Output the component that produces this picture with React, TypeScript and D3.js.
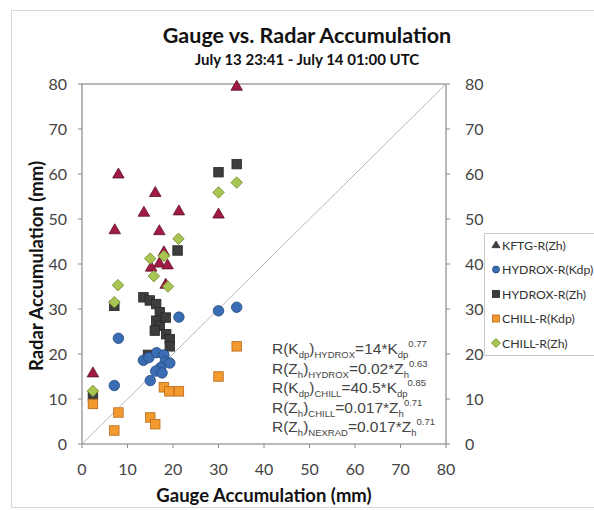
import React from "react";
import * as d3 from "d3";

type Pt = [number, number];

const kftg: Pt[] = [[34, 79.5], [8, 60], [16.1, 55.9], [13.6, 51.5], [21.3, 51.8], [30, 51.1], [7.2, 47.6], [17, 47.4], [18, 42.7], [15.2, 39.3], [17, 40.2], [18.8, 39.8], [18.4, 35.5], [2.4, 15.8]];
const hydroxKdp: Pt[] = [[21.3, 28.2], [30, 29.6], [34, 30.4], [8, 23.5], [7.1, 13], [13.5, 18.6], [14.7, 19.2], [16.4, 20.3], [18, 19.8], [18.3, 18.3], [19.3, 18], [17.3, 17], [16.2, 16.2], [15, 14.1], [17.6, 15.8]];
const hydroxZh: Pt[] = [[30, 60.4], [34, 62.2], [21, 43], [7.1, 30.7], [13.5, 32.6], [14.9, 31.9], [16.3, 31.1], [17.1, 29.3], [16.3, 27.4], [17.1, 26.3], [16, 25.2], [18.4, 28.1], [18.5, 24.4], [19.3, 23.3], [19.3, 21.7], [14.5, 19.8], [2.4, 10.7]];
const chillKdp: Pt[] = [[34, 21.7], [30, 15], [18, 12.6], [19.2, 11.7], [21.3, 11.7], [8, 7], [15, 5.9], [16.1, 4.4], [7.1, 3], [2.4, 8.9]];
const chillZh: Pt[] = [[34, 58.1], [30, 55.9], [21.2, 45.6], [15, 41.2], [18, 41.8], [7.9, 35.3], [7.1, 31.5], [15.8, 37.3], [18.9, 35], [2.4, 11.8]];

const ticks = [0, 10, 20, 30, 40, 50, 60, 70, 80];
const legendLabels = ["KFTG-R(Zh)", "HYDROX-R(Kdp)", "HYDROX-R(Zh)", "CHILL-R(Kdp)", "CHILL-R(Zh)"];

const x = d3.scaleLinear().domain([0, 80]).range([82, 446]);
const y = d3.scaleLinear().domain([0, 80]).range([444, 84]);

const FONT = "Lato, 'Open Sans', sans-serif";
const EQFONT = "'Liberation Sans', Arial, sans-serif";

type Shape = "tri" | "circ" | "sq" | "dia";
function Marker({ shape, cx, cy, s, fill, stroke }: { shape: Shape; cx: number; cy: number; s: number; fill: string; stroke: string }) {
  if (shape === "circ") return <circle cx={cx} cy={cy} r={s / 2} fill={fill} stroke={stroke} strokeWidth={0.8} />;
  if (shape === "sq") return <rect x={cx - s / 2} y={cy - s / 2} width={s} height={s} fill={fill} stroke={stroke} strokeWidth={0.8} />;
  if (shape === "dia") {
    const h = s / 2 + 1;
    return <path d={`M${cx},${cy - h}L${cx + h},${cy}L${cx},${cy + h}L${cx - h},${cy}Z`} fill={fill} stroke={stroke} strokeWidth={0.8} />;
  }
  const h = s * 0.95;
  return <path d={`M${cx},${cy - h * 0.6}L${cx + s / 2 + 0.5},${cy + h * 0.4}L${cx - s / 2 - 0.5},${cy + h * 0.4}Z`} fill={fill} stroke={stroke} strokeWidth={0.8} />;
}

const series: { data: Pt[]; shape: Shape; fill: string; stroke: string; size: number }[] = [
  { data: hydroxZh, shape: "sq", fill: "#3d3d3d", stroke: "#262626", size: 9.5 },
  { data: kftg, shape: "tri", fill: "#a31a45", stroke: "#5c1024", size: 10.5 },
  { data: hydroxKdp, shape: "circ", fill: "#3b6db4", stroke: "#22477c", size: 10.5 },
  { data: chillKdp, shape: "sq", fill: "#f39a2e", stroke: "#b8681a", size: 9.5 },
  { data: chillZh, shape: "dia", fill: "#a8c451", stroke: "#6f8a2c", size: 9.5 },
];

const legendStyles = [
  { shape: "tri" as Shape, fill: "#404040", stroke: "#303030" },
  { shape: "circ" as Shape, fill: "#3b6db4", stroke: "#22477c" },
  { shape: "sq" as Shape, fill: "#3d3d3d", stroke: "#262626" },
  { shape: "sq" as Shape, fill: "#f39a2e", stroke: "#b8681a" },
  { shape: "dia" as Shape, fill: "#a8c451", stroke: "#6f8a2c" },
];

function Eq({ y0, parts }: { y0: number; parts: [string, "n" | "sub" | "sup"][] }) {
  return (
    <text x={272} y={y0} fontFamily={EQFONT} fontSize={15.5} fill="#444">
      {parts.map(([t, k], i) => {
        if (k === "n") return <tspan key={i}>{t}</tspan>;
        return (
          <tspan key={i} fontSize={9.5} baselineShift={k === "sub" ? -4 : 7}>{t}</tspan>
        );
      })}
    </text>
  );
}

export default function App() {
  return (
    <svg width={594} height={510} style={{ position: "absolute", left: 0, top: 0, background: "#fff" }}>
      <rect x={11.5} y={10.5} width={620} height={497} fill="none" stroke="#d8d8d8" />
      <text x={307} y={43} textAnchor="middle" fontFamily={FONT} fontWeight={700} fontSize={21.5} fill="#111">Gauge vs. Radar Accumulation</text>
      <text x={307} y={65} textAnchor="middle" fontFamily={FONT} fontWeight={700} fontSize={15} fill="#111">July 13 23:41 - July 14 01:00 UTC</text>

      <rect x={x(0)} y={y(80)} width={x(80) - x(0)} height={y(0) - y(80)} fill="none" stroke="#8a8a8a" strokeWidth={1.2} />
      <line x1={x(0)} y1={y(0)} x2={x(80)} y2={y(80)} stroke="#b8b8b8" strokeWidth={1} />

      {ticks.map((t) => (
        <g key={"t" + t}>
          <line x1={x(0) - 4} x2={x(0)} y1={y(t)} y2={y(t)} stroke="#8a8a8a" />
          <line x1={x(80)} x2={x(80) + 4} y1={y(t)} y2={y(t)} stroke="#8a8a8a" />
          <line x1={x(t)} x2={x(t)} y1={y(0)} y2={y(0) + 4} stroke="#8a8a8a" />
          <text x={67} y={y(t) + 5.5} textAnchor="end" fontFamily={FONT} fontSize={16} fill="#444">{t}</text>
          <text x={465} y={y(t) + 5.5} textAnchor="start" fontFamily={FONT} fontSize={16} fill="#444">{t}</text>
          <text x={x(t)} y={y(0) + 31} textAnchor="middle" fontFamily={FONT} fontSize={16} fill="#444">{t}</text>
        </g>
      ))}

      <text x={264} y={502} textAnchor="middle" fontFamily={FONT} fontWeight={700} fontSize={18.5} fill="#111">Gauge Accumulation (mm)</text>
      <text transform={`translate(43,266) rotate(-90)`} textAnchor="middle" fontFamily={FONT} fontWeight={700} fontSize={18.5} fill="#111">Radar Accumulation (mm)</text>

      {series.map((s, si) => (
        <g key={"s" + si}>
          {s.data.map(([dx, dy], i) => (
            <Marker key={i} shape={s.shape} cx={x(dx)} cy={y(dy)} s={s.size} fill={s.fill} stroke={s.stroke} />
          ))}
        </g>
      ))}

      <Eq y0={354} parts={[["R(K", "n"], ["dp", "sub"], [")", "n"], ["HYDROX", "sub"], ["=14*K", "n"], ["dp", "sub"], ["0.77", "sup"]]} />
      <Eq y0={373.5} parts={[["R(Z", "n"], ["h", "sub"], [")", "n"], ["HYDROX", "sub"], ["=0.02*Z", "n"], ["h", "sub"], ["0.63", "sup"]]} />
      <Eq y0={393} parts={[["R(K", "n"], ["dp", "sub"], [")", "n"], ["CHILL", "sub"], ["=40.5*K", "n"], ["dp", "sub"], ["0.85", "sup"]]} />
      <Eq y0={412.5} parts={[["R(Z", "n"], ["h", "sub"], [")", "n"], ["CHILL", "sub"], ["=0.017*Z", "n"], ["h", "sub"], ["0.71", "sup"]]} />
      <Eq y0={432} parts={[["R(Z", "n"], ["h", "sub"], [")", "n"], ["NEXRAD", "sub"], ["=0.017*Z", "n"], ["h", "sub"], ["0.71", "sup"]]} />

      <rect x={484.5} y={233.5} width={140} height={122} fill="#fff" stroke="#c8c8c8" />
      {legendLabels.map((lab, i) => (
        <g key={"l" + i}>
          <Marker shape={legendStyles[i].shape} cx={496} cy={245 + i * 24.5} s={7} fill={legendStyles[i].fill} stroke={legendStyles[i].stroke} />
          <text x={502} y={249.5 + i * 24.5} fontFamily={FONT} fontSize={12.3} fill="#333">{lab}</text>
        </g>
      ))}
    </svg>
  );
}
